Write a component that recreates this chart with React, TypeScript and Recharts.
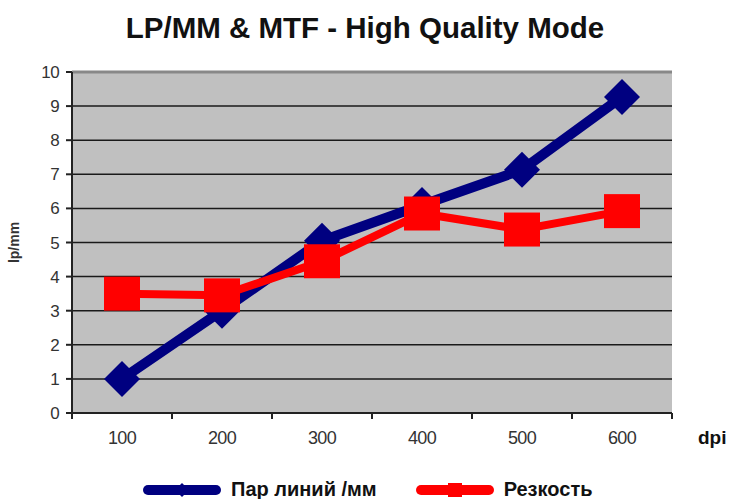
import React from "react";
import {
  LineChart,
  Line,
  XAxis,
  YAxis,
  CartesianGrid,
  ReferenceLine,
  Label,
} from "recharts";

const title = "LP/MM & MTF - High Quality Mode";
const dpi = ["100", "200", "300", "400", "500", "600"];
const lpPerMm = [1.0, 3.0, 5.05, 6.1, 7.13, 9.27];
const sharpness = [3.5, 3.45, 4.45, 5.85, 5.38, 5.92];
const yTicks = [0, 1, 2, 3, 4, 5, 6, 7, 8, 9, 10];
const seriesNames = ["Пар линий /мм", "Резкость"];

const data = dpi.map((d, i) => ({ dpi: d, lp: lpPerMm[i], sharp: sharpness[i] }));

const W = 730;
const H = 499;
const PLOT_LEFT = 72;
const PLOT_RIGHT = 672;
const PLOT_TOP = 72;
const PLOT_BOTTOM = 413;
const BAND = (PLOT_RIGHT - PLOT_LEFT) / dpi.length;

const NAVY = "#000080";
const RED = "#ff0000";
const FONT = "'Liberation Sans', Arial, sans-serif";

const Diamond = (props: any) => {
  const { cx, cy } = props;
  if (cx == null || cy == null) return null;
  const r = 18;
  return (
    <polygon
      points={`${cx},${cy - r} ${cx + r},${cy} ${cx},${cy + r} ${cx - r},${cy}`}
      fill={NAVY}
    />
  );
};

const Square = (props: any) => {
  const { cx, cy } = props;
  if (cx == null || cy == null) return null;
  return <rect x={cx - 18} y={cy - 17} width={36} height={34} fill={RED} />;
};

const DpiTick = (props: any) => {
  const { x, y, payload, index } = props;
  const half = BAND / 2;
  return (
    <g>
      <line x1={x - half} y1={y} x2={x - half} y2={y + 6} stroke="#222" strokeWidth={2} />
      {index === dpi.length - 1 && (
        <line x1={x + half} y1={y} x2={x + half} y2={y + 6} stroke="#222" strokeWidth={2} />
      )}
      <text
        x={x}
        y={y + 31}
        textAnchor="middle"
        fill="#333"
        fontSize={18}
        fontFamily={FONT}
        letterSpacing={-0.6}
      >
        {payload.value}
      </text>
    </g>
  );
};

const LegendItem = ({ color, name, square, gap }: { color: string; name: string; square: boolean; gap: number }) => (
  <div style={{ display: "flex", alignItems: "center", marginRight: gap }}>
    <svg width={80} height={16} style={{ marginRight: 9 }}>
      <line x1={6} y1={8} x2={74} y2={8} stroke={color} strokeWidth={10} strokeLinecap="round" />
      {square ? (
        <rect x={33} y={1} width={14} height={14} fill={color} />
      ) : (
        <polygon points="40,1 47,8 40,15 33,8" fill={color} />
      )}
    </svg>
    <span style={{ fontFamily: FONT, fontWeight: "bold", fontSize: 20, color: "#111" }}>{name}</span>
  </div>
);

export default function App() {
  return (
    <div style={{ position: "absolute", left: 0, top: 0, width: W, height: H, background: "#fff", overflow: "hidden" }}>
      <div
        style={{
          position: "absolute",
          left: 0,
          top: 11,
          width: W,
          textAlign: "center",
          fontFamily: FONT,
          fontWeight: "bold",
          fontSize: 29.5,
          color: "#111",
        }}
      >
        {title}
      </div>
      <LineChart
        width={W}
        height={H}
        data={data}
        margin={{ top: PLOT_TOP, right: W - PLOT_RIGHT, left: 0, bottom: 0 }}
      >
        <CartesianGrid
          yAxisId="left"
          vertical={false}
          stroke="#1a1a1a"
          strokeWidth={1.5}
          fill="#c0c0c0"
          fillOpacity={1}
        />
        <XAxis
          dataKey="dpi"
          height={H - PLOT_BOTTOM}
          interval={0}
          padding={{ left: BAND / 2, right: BAND / 2 }}
          tickSize={0}
          tickMargin={0}
          tickLine={false}
          axisLine={{ stroke: "#222", strokeWidth: 2 }}
          tick={<DpiTick />}
        >
          <Label
            value="dpi"
            position="right"
            content={({ viewBox }: any) => (
              <text
                x={viewBox.x + viewBox.width + 26}
                y={viewBox.y + 31}
                fontFamily={FONT}
                fontWeight="bold"
                fontSize={19}
                fill="#111"
              >
                dpi
              </text>
            )}
          />
        </XAxis>
        <YAxis
          yAxisId="left"
          width={PLOT_LEFT}
          domain={[0, 10]}
          ticks={yTicks}
          interval={0}
          tickSize={6}
          tickMargin={7}
          axisLine={{ stroke: "#222", strokeWidth: 2 }}
          tickLine={{ stroke: "#222", strokeWidth: 2 }}
          tick={{ fill: "#333", fontSize: 17, fontFamily: FONT, letterSpacing: -0.6 }}
        >
          <Label
            content={({ viewBox }: any) => (
              <text
                transform={`translate(19, ${viewBox.y + viewBox.height / 2}) rotate(-90)`}
                textAnchor="middle"
                fontFamily={FONT}
                fontWeight="bold"
                fontSize={14}
                fill="#333"
              >
                lp/mm
              </text>
            )}
          />
        </YAxis>
        <YAxis
          yAxisId="right"
          orientation="right"
          width={0}
          domain={[0, 10]}
          tick={false}
          tickLine={false}
          axisLine={{ stroke: "#888", strokeWidth: 3 }}
        />
        <ReferenceLine yAxisId="left" y={10} stroke="#888" strokeWidth={3} />
        <Line
          yAxisId="left"
          dataKey="lp"
          name={seriesNames[0]}
          stroke={NAVY}
          strokeWidth={10}
          dot={<Diamond />}
          activeDot={false}
          isAnimationActive={false}
        />
        <Line
          yAxisId="left"
          dataKey="sharp"
          name={seriesNames[1]}
          stroke={RED}
          strokeWidth={8}
          dot={<Square />}
          activeDot={false}
          isAnimationActive={false}
        />
      </LineChart>
      <div
        style={{
          position: "absolute",
          left: 142,
          top: 478,
          display: "flex",
          alignItems: "center",
        }}
      >
        <LegendItem color={NAVY} name={seriesNames[0]} square={false} gap={38} />
        <LegendItem color={RED} name={seriesNames[1]} square={true} gap={0} />
      </div>
    </div>
  );
}
